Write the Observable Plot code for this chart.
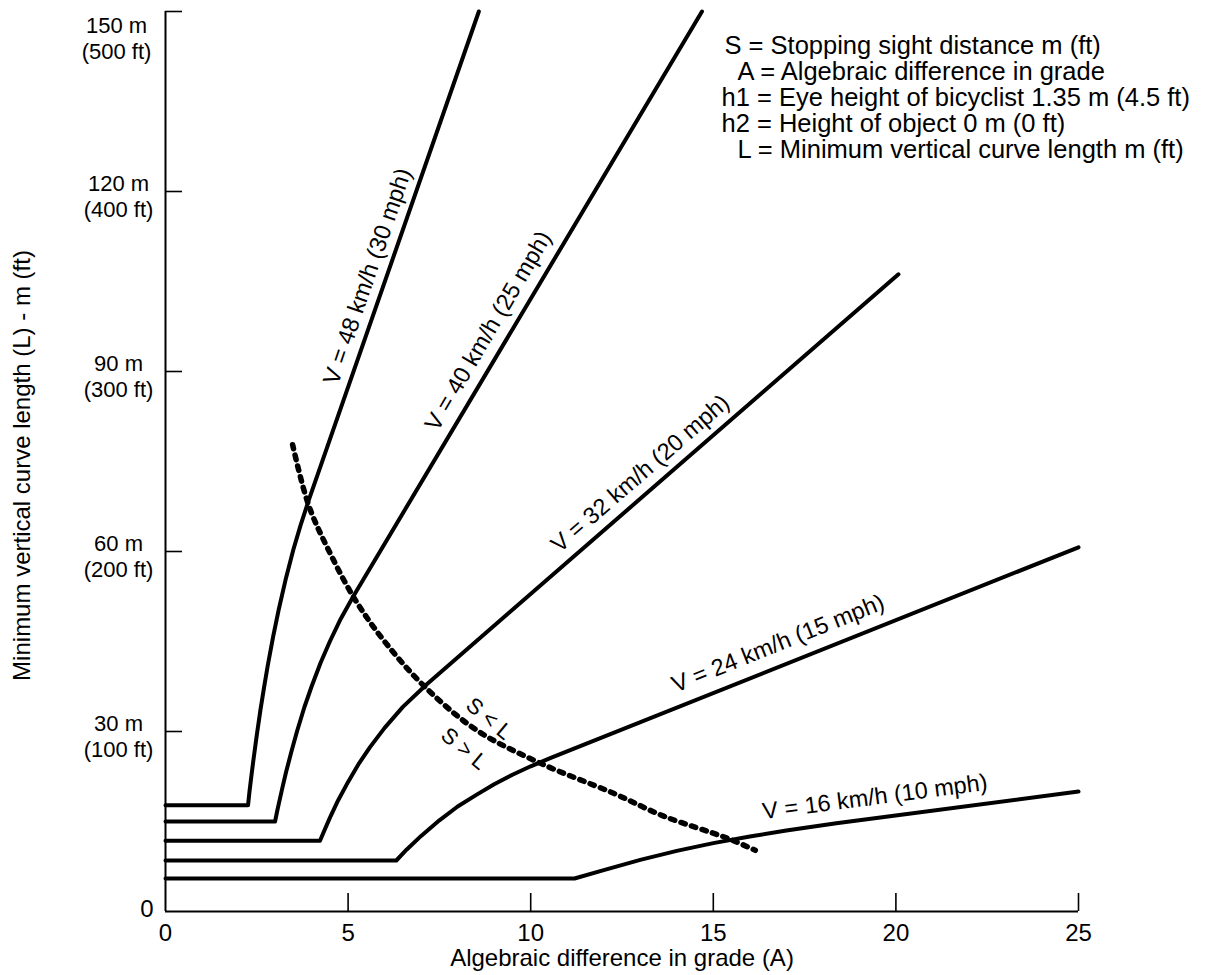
<!DOCTYPE html>
<html><head><meta charset="utf-8">
<script src="https://cdn.jsdelivr.net/npm/d3@7"></script>
<script src="https://cdn.jsdelivr.net/npm/@observablehq/plot@0.6"></script>
<style>
html,body{margin:0;padding:0;background:#fff;}
#chart svg{display:block;}
</style></head><body><div id="chart"></div>
<script>
// ---------- data ----------
const xTickValues = [0, 5, 10, 15, 20, 25];
const yTickValues = [0, 30, 60, 90, 120, 150];
const yTickMetric = ["0", "30 m", "60 m", "90 m", "120 m", "150 m"];
const yTickImperial = ["", "(100 ft)", "(200 ft)", "(300 ft)", "(400 ft)", "(500 ft)"];

const speedLabels = ["V = 48 km/h (30 mph)", "V = 40 km/h (25 mph)", "V = 32 km/h (20 mph)", "V = 24 km/h (15 mph)", "V = 16 km/h (10 mph)"];

const grade48  = [0, 2.26, 2.3, 2.35, 2.4, 2.5, 2.6, 2.7, 2.8, 2.95, 3.1, 3.3, 3.5, 3.7, 3.93, 8.58];
const length48 = [17.7, 17.7, 20.0, 22.5, 24.9, 29.4, 33.6, 37.4, 41.0, 45.9, 50.3, 55.6, 60.3, 64.4, 68.7, 150];
const grade40  = [0, 3.0, 3.05, 3.1, 3.2, 3.3, 3.45, 3.6, 3.8, 4.0, 4.25, 4.5, 4.8, 5.14, 14.69];
const length40 = [15, 15, 16.5, 17.9, 20.6, 23.2, 26.7, 30.0, 34.0, 37.5, 41.5, 45.0, 48.8, 52.5, 150];
const grade32  = [0, 4.23, 4.35, 4.5, 4.7, 5.0, 5.3, 5.6, 6.0, 6.5, 7.14, 20.07];
const length32 = [11.8, 11.8, 13.5, 15.6, 18.2, 21.6, 24.7, 27.4, 30.6, 34.1, 37.8, 106.2];
const grade24  = [0, 6.32, 6.6, 7.0, 7.5, 8.0, 8.5, 9.0, 9.5, 10.0, 10.55, 25];
const length24 = [8.5, 8.5, 10.3, 12.6, 15.2, 17.5, 19.4, 21.2, 22.8, 24.2, 25.6, 60.7];
const grade16  = [0, 11.2, 12, 13, 14, 15, 16, 17, 18.37, 25];
const length16 = [5.5, 5.5, 6.9, 8.6, 10.1, 11.4, 12.5, 13.5, 14.7, 20.0];

// S = L boundary (dotted)
const boundaryGrade  = [3.48, 3.92, 4.5, 5.2, 6.0, 7.06, 8.5, 10.27, 12.27, 13.64, 15.39, 16.15];
const boundaryLength = [77.8, 67.7, 59.8, 51.9, 45.0, 37.7, 30.3, 24.7, 19.7, 15.9, 12.2, 10.2];

const legendLines = [
  "S = Stopping sight distance m (ft)",
  "A = Algebraic difference in grade",
  "h1 = Eye height of bicyclist 1.35 m (4.5 ft)",
  "h2 = Height of object 0 m (0 ft)",
  "L = Minimum vertical curve length m (ft)"
];
const regionLabels = ["S < L", "S > L"];
const xTitle = "Algebraic difference in grade (A)";
const yTitle = "Minimum vertical curve length (L) - m (ft)";

// ---------- build tables ----------
const gradeSets = [grade48, grade40, grade32, grade24, grade16];
const lengthSets = [length48, length40, length32, length24, length16];
const curves = [];
gradeSets.forEach((g, k) => g.forEach((a, i) => curves.push({speed: speedLabels[k], A: a, L: lengthSets[k][i]})));
const boundary = boundaryGrade.map((a, i) => ({A: a, L: boundaryLength[i]}));
const tickLabel = i => yTickImperial[i] ? yTickMetric[i] + "\n" + yTickImperial[i] : yTickMetric[i];

function interp(gs, ls, a) {
  for (let i = 1; i < gs.length; i++) {
    if (a <= gs[i]) { const t = (a - gs[i-1]) / (gs[i] - gs[i-1]); return ls[i-1] + t * (ls[i] - ls[i-1]); }
  }
  return ls[ls.length - 1];
}

// ---------- layout / styles ----------
const W = 1210, H = 975, mL = 165, mR = 132, mT = 11, mB = 64;
const frameW = W - mL - mR, frameH = H - mT - mB;
const font = "'Liberation Sans', Arial, Helvetica, sans-serif";
const T = {fill: "#000", lineAnchor: "middle"};

// label placement along each curve: grade position, rotation (deg), offset (px)
const labelLayout = [
  {a: 6.0, rot: -71, off: 18},
  {a: 9.31, rot: -59.6, off: 20},
  {a: 13.34, rot: -40.9, off: 19},
  {a: 17.0, rot: -21.9, off: 22},
  {a: 19.5, rot: -7.5, off: 21}
];
const curveLabelMarks = labelLayout.map((lay, k) => {
  const th = lay.rot * Math.PI / 180;
  const pt = {A: lay.a, L: interp(gradeSets[k], lengthSets[k], lay.a), t: speedLabels[k]};
  return Plot.text([pt], {...T, x: "A", y: "L", text: "t", rotate: lay.rot, textAnchor: "middle",
    dx: lay.off * Math.sin(th), dy: -lay.off * Math.cos(th), fontSize: 23.5});
});

const regionAnchor = {A: 8.5, L: interp(boundaryGrade, boundaryLength, 8.5)};
const regionOffsets = [{dx: 13, dy: -11}, {dx: -12, dy: 19}];
const regionMarks = regionLabels.map((t, i) => Plot.text([regionAnchor], {...T, x: "A", y: "L", text: () => t,
  rotate: 40, textAnchor: "middle", dx: regionOffsets[i].dx, dy: regionOffsets[i].dy, fontSize: 22}));

const legendLayout = [{dx: 559, dy: 34}, {dx: 572, dy: 60}, {dx: 556, dy: 86}, {dx: 556, dy: 112}, {dx: 572, dy: 138}];
const legendMarks = legendLines.map((t, i) => Plot.text([t], {...T, frameAnchor: "top-left", text: d => d,
  textAnchor: "start", dx: legendLayout[i].dx, dy: legendLayout[i].dy, fontSize: 25.5}));

const plot = Plot.plot({
  width: W, height: H,
  marginLeft: mL, marginRight: mR, marginTop: mT, marginBottom: mB,
  x: {domain: [0, 25], axis: null},
  y: {domain: [0, 150], axis: null},
  style: {fontFamily: font, fontSize: "24px", color: "#000", background: "#fff", overflow: "visible"},
  marks: [
    // axes
    Plot.ruleX([0], {y1: 0, y2: 150, strokeWidth: 2, stroke: "#000"}),
    Plot.ruleY([0], {x1: 0, x2: 25, strokeWidth: 2, stroke: "#000"}),
    Plot.tickX(xTickValues.slice(1), {x: d => d, insetTop: frameH - 18, strokeWidth: 1.6, stroke: "#000"}),
    Plot.tickY(yTickValues.slice(1), {y: d => d, insetRight: frameW - 17, strokeWidth: 1.6, stroke: "#000"}),
    Plot.text(xTickValues, {...T, x: d => d, frameAnchor: "bottom", textAnchor: "middle", dy: 22, text: d => String(d), fontSize: 24}),
    Plot.text([1, 2, 3, 4], {...T, y: i => yTickValues[i], frameAnchor: "left", textAnchor: "middle", lineHeight: 1.17, dx: -47, dy: 4, text: tickLabel, fontSize: 22}),
    Plot.text([5], {...T, y: i => yTickValues[i], frameAnchor: "left", textAnchor: "middle", lineHeight: 1.17, dx: -49, dy: 26, text: tickLabel, fontSize: 22}),
    Plot.text([0], {...T, y: i => yTickValues[i], frameAnchor: "left", dx: -12, dy: -2, textAnchor: "end", text: tickLabel, fontSize: 24}),
    Plot.text([xTitle], {...T, frameAnchor: "bottom", textAnchor: "middle", dy: 47, text: d => d, fontSize: 24}),
    Plot.text([yTitle], {...T, frameAnchor: "left", textAnchor: "middle", dx: -143, dy: 4, rotate: -90, text: d => d, fontSize: 24}),
    // data
    Plot.line(curves, {x: "A", y: "L", z: "speed", stroke: "#000", strokeWidth: 4, strokeLinejoin: "round"}),
    Plot.line(boundary, {x: "A", y: "L", stroke: "#000", strokeWidth: 5.5, strokeDasharray: "4.5,6.5", curve: "catmull-rom"}),
    ...curveLabelMarks,
    ...regionMarks,
    ...legendMarks
  ]
});
document.getElementById("chart").appendChild(plot);
</script></body></html>
